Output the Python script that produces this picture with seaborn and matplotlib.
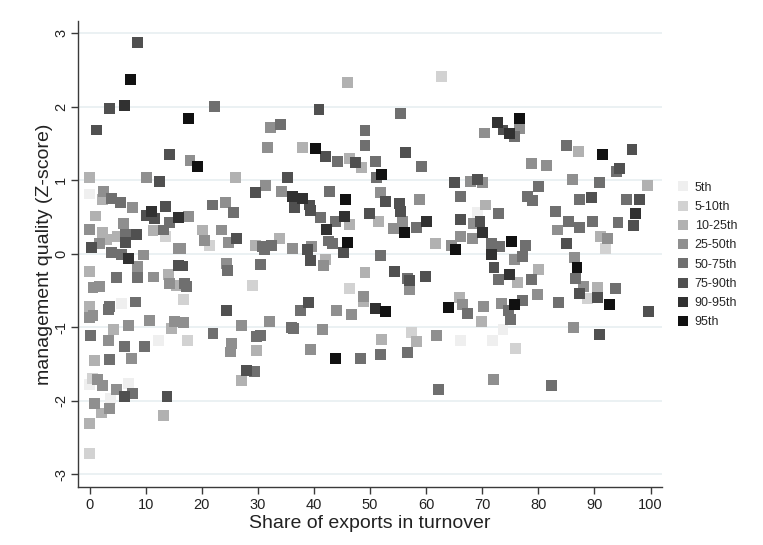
import matplotlib
matplotlib.use("Agg")
import matplotlib.pyplot as plt
import seaborn as sns
import pandas as pd


# =========================================================
# DATA
# =========================================================
group_labels = ["5th", "5-10th", "10-25th", "25-50th",
                "50-75th", "75-90th", "90-95th", "95th"]

export_share = [
    # 0-16
    8.6, 7.3, 3.6, 6.3, 1.3, 14.2, 0.0, 10.2, 12.5, 0.0, 2.5, 2.3, 3.9, 5.5,
    7.6, 13.6, 11.1, 10.1, 11.6, 15.8, 1.1, 6.0, 14.3, 13.1, 0.0, 2.3, 11.3,
    13.6, 3.1, 6.4, 8.3, 4.9, 1.8, 6.4, 0.3, 15.8, 3.9, 5.7, 7.0, 9.6, 8.6,
    15.8, 0.0, 4.8, 8.5, 11.4, 14.0, 14.3, 0.6, 1.8, 15.5, 0.0, 3.5, 3.3,
    5.7, 8.2, 0.6, 0.0, 10.6, 15.2, 14.6, 6.9, 4.2, 0.1, 3.3, 12.3, 6.3,
    9.8, 7.5, 3.6, 0.9, 0.5, 1.4, 2.3, 4.8, 6.9, 0.0, 6.3, 7.6, 13.8, 3.7,
    0.8, 3.6, 2.1, 0.0, 13.2, 0.0,
    # 16-33
    22.2, 17.6, 32.3, 31.7, 17.9, 19.2, 26.0, 31.4, 29.6, 21.9, 24.2, 25.6,
    17.7, 20.1, 20.5, 21.4, 23.5, 24.7, 26.2, 16.3, 29.6, 30.8, 31.1, 32.4,
    16.5, 24.4, 24.6, 30.4, 17.0, 17.3, 16.8, 29.0, 24.4, 16.7, 27.1, 32.1,
    17.4, 22.0, 25.3, 25.2, 29.8, 30.4, 29.8, 28.0, 29.4, 27.0,
    # 33-50
    46.0, 40.9, 34.1, 49.1, 49.1, 38.0, 40.3, 42.0, 44.2, 46.4, 47.4, 48.5,
    35.2, 34.2, 36.2, 38.0, 36.5, 39.2, 39.4, 42.7, 45.7, 41.2, 43.8, 45.4,
    46.3, 42.3, 49.9, 33.9, 36.2, 39.6, 38.8, 42.6, 43.3, 46.0, 45.3, 39.4,
    42.1, 41.7, 49.1, 46.3, 48.8, 48.9, 39.0, 37.6, 44.1, 46.7, 36.0, 36.4,
    41.6, 39.3, 43.9, 48.3,
    # 50-67
    62.7, 55.4, 56.4, 59.1, 51.0, 51.2, 52.0, 65.1, 66.1, 51.8, 52.8, 55.2,
    55.4, 58.8, 51.5, 54.2, 55.8, 56.1, 58.3, 60.0, 61.7, 64.6, 66.1, 66.1,
    65.2, 51.8, 54.3, 56.6, 57.1, 57.1, 59.9, 51.0, 52.8, 64.0, 66.0, 66.5,
    52.1, 57.4, 58.2, 61.9, 66.1, 51.8, 56.6, 62.2,
    # 67-84
    76.7, 72.7, 70.4, 73.7, 74.9, 75.7, 76.7, 78.8, 81.5, 69.2, 67.9, 70.1,
    70.5, 80.1, 78.0, 78.9, 69.1, 72.9, 83.0, 68.4, 69.6, 70.1, 68.3, 83.5,
    71.7, 73.1, 75.3, 77.7, 75.7, 77.1, 71.6, 72.1, 72.9, 74.8, 76.3, 78.8,
    80.1, 79.8, 67.3, 70.2, 69.9, 73.5, 74.7, 75.0, 75.7, 77.1, 83.6, 71.9,
    73.7, 75.9, 72.0, 82.3,
    # 84-100
    85.1, 87.1, 91.5, 96.7, 94.5, 93.9, 86.1, 90.9, 99.4, 87.3, 89.5, 95.8,
    98.0, 97.4, 85.3, 87.3, 89.6, 94.2, 97.0, 91.1, 92.4, 92.0, 85.0, 86.4,
    86.9, 86.7, 88.1, 87.3, 88.7, 90.5, 90.5, 92.7, 93.8, 99.7, 86.3, 90.9,
]

mgmt_score = [
    2.87, 2.37, 1.97, 2.02, 1.68, 1.35, 1.04, 1.03, 0.98, 0.81, 0.84, 0.73,
    0.75, 0.70, 0.63, 0.64, 0.57, 0.52, 0.48, 0.49, 0.51, 0.41, 0.42, 0.32,
    0.33, 0.29, 0.31, 0.23, 0.19, 0.26, 0.26, 0.23, 0.14, 0.15, 0.08, 0.07,
    0.01, -0.01, -0.07, -0.02, -0.18, -0.16, -0.25, -0.33, -0.33, -0.32,
    -0.29, -0.41, -0.46, -0.45, -0.44, -0.72, -0.72, -0.76, -0.68, -0.66,
    -0.84, -0.87, -0.91, -0.92, -1.02, -0.98, -1.04, -1.11, -1.18, -1.18,
    -1.27, -1.26, -1.43, -1.44, -1.46, -1.70, -1.71, -1.80, -1.85, -1.77,
    -1.78, -1.95, -1.90, -1.94, -1.97, -2.04, -2.11, -2.17, -2.31, -2.21,
    -2.72,
    2.00, 1.84, 1.71, 1.44, 1.26, 1.19, 1.04, 0.92, 0.83, 0.66, 0.70, 0.56,
    0.50, 0.32, 0.18, 0.11, 0.32, 0.15, 0.20, 0.07, 0.11, 0.09, 0.05, 0.11,
    -0.17, -0.14, -0.23, -0.15, -0.41, -0.45, -0.63, -0.44, -0.78, -0.94,
    -0.98, -0.92, -1.18, -1.09, -1.23, -1.34, -1.13, -1.11, -1.32, -1.59,
    -1.61, -1.73,
    2.33, 1.96, 1.75, 1.67, 1.47, 1.44, 1.43, 1.32, 1.25, 1.29, 1.24, 1.17,
    1.04, 0.85, 0.77, 0.75, 0.63, 0.66, 0.59, 0.84, 0.74, 0.49, 0.44, 0.50,
    0.39, 0.33, 0.55, 0.20, 0.07, 0.10, 0.06, 0.17, 0.14, 0.15, 0.01, -0.09,
    -0.08, -0.16, -0.26, -0.47, -0.59, -0.66, -0.67, -0.77, -0.78, -0.83,
    -1.01, -1.02, -1.03, -1.31, -1.43, -1.43,
    2.41, 1.90, 1.38, 1.19, 1.25, 1.04, 1.07, 0.97, 0.77, 0.83, 0.71, 0.68,
    0.57, 0.73, 0.43, 0.34, 0.43, 0.29, 0.36, 0.43, 0.13, 0.11, 0.23, 0.46,
    0.05, -0.03, -0.25, -0.34, -0.37, -0.49, -0.31, -0.75, -0.79, -0.73,
    -0.60, -0.70, -1.17, -1.07, -1.20, -1.11, -1.18, -1.38, -1.35, -1.85,
    1.84, 1.78, 1.64, 1.68, 1.63, 1.59, 1.70, 1.22, 1.20, 1.01, 0.98, 0.96,
    0.66, 0.91, 0.77, 0.72, 0.56, 0.54, 0.57, 0.41, 0.43, 0.28, 0.20, 0.32,
    0.14, 0.09, 0.16, 0.11, -0.08, -0.04, -0.01, -0.19, -0.36, -0.29, -0.39,
    -0.35, -0.22, -0.56, -0.82, -0.72, -0.93, -0.68, -0.77, -0.90, -0.70,
    -0.64, -0.67, -1.18, -1.04, -1.29, -1.72, -1.80,
    1.47, 1.39, 1.35, 1.41, 1.16, 1.11, 1.01, 0.97, 0.92, 0.73, 0.76, 0.73,
    0.73, 0.55, 0.44, 0.36, 0.44, 0.42, 0.38, 0.23, 0.20, 0.07, 0.14, -0.05,
    -0.19, -0.34, -0.45, -0.54, -0.61, -0.46, -0.60, -0.70, -0.48, -0.79,
    -1.01, -1.10,
]

# index into group_labels (0 = 5th ... 7 = 95th)
pct_group = [
    5, 7, 5, 6, 5, 5, 2, 3, 5, 0, 3, 2, 4, 4, 3, 5, 6, 5, 5, 6, 2, 3, 4, 4,
    3, 2, 2, 1, 2, 4, 5, 2, 3, 5, 5, 3, 4, 4, 6, 3, 3, 5, 2, 4, 4, 3, 2, 3,
    3, 3, 2, 2, 4, 4, 0, 4, 3, 3, 3, 3, 2, 3, 2, 4, 3, 0, 4, 4, 3, 4, 2, 1,
    3, 3, 3, 0, 0, 5, 4, 5, 0, 3, 3, 2, 2, 2, 1,
    4, 7, 3, 3, 3, 7, 2, 3, 5, 4, 3, 4, 3, 2, 3, 1, 3, 3, 5, 3, 2, 4, 4, 4,
    5, 3, 4, 4, 4, 4, 1, 1, 5, 3, 3, 3, 1, 4, 3, 3, 4, 4, 2, 5, 4, 2,
    2, 5, 4, 4, 4, 2, 7, 5, 4, 2, 5, 2, 5, 3, 6, 6, 5, 5, 5, 4, 7, 4, 4, 6,
    2, 6, 5, 2, 3, 3, 5, 4, 4, 7, 5, 5, 2, 3, 2, 1, 3, 2, 5, 4, 3, 3, 4, 4,
    3, 3, 7, 4,
    1, 4, 5, 4, 4, 4, 7, 5, 4, 3, 5, 5, 5, 3, 2, 3, 3, 7, 4, 6, 2, 3, 3, 5,
    7, 4, 5, 4, 5, 3, 5, 6, 7, 7, 2, 3, 2, 1, 2, 3, 0, 4, 4, 4,
    7, 6, 3, 5, 6, 4, 3, 3, 3, 5, 3, 3, 2, 4, 4, 4, 0, 4, 4, 3, 5, 6, 3, 3,
    4, 4, 7, 4, 3, 4, 6, 5, 4, 6, 2, 4, 2, 3, 4, 3, 2, 3, 4, 4, 7, 4, 4, 0,
    0, 1, 3, 4,
    4, 2, 7, 5, 5, 4, 3, 4, 2, 4, 5, 4, 5, 6, 4, 4, 4, 4, 5, 2, 3, 1, 5, 3,
    7, 4, 3, 5, 1, 2, 5, 7, 4, 5, 3, 5,
]

group_colors = ["#efefef", "#d2d2d2", "#b1b1b1", "#8f8f8f",
                "#6f6f6f", "#505050", "#313131", "#111111"]


# =========================================================
# PLOT
# =========================================================
sns.set_style("white")
plt.rcParams["font.family"] = ["Liberation Sans", "DejaVu Sans"]

df = pd.DataFrame({
    "share": export_share,
    "mq": mgmt_score,
    "grp": [group_labels[g] for g in pct_group],
    "order": pct_group,
}).sort_values("order", kind="stable")

fig = plt.figure(figsize=(7.63, 5.45), dpi=100)
ax = fig.add_axes([0.102, 0.106, 0.766, 0.855])

sns.scatterplot(
    data=df, x="share", y="mq", hue="grp",
    hue_order=group_labels,
    palette=dict(zip(group_labels, group_colors)),
    marker="s", s=62, linewidth=0, alpha=1.0,
    ax=ax, zorder=3,
)

ax.set_xlim(-2.1, 102.1)
ax.set_ylim(-3.18, 3.16)
ax.set_xticks(range(0, 101, 10))
ax.set_yticks(range(-3, 4))
ax.set_yticklabels([str(v) for v in range(-3, 4)], rotation=90, va="center")

ax.grid(axis="y", color="#e8eff1", linewidth=1.2, zorder=0)
ax.grid(axis="x", visible=False)
ax.set_axisbelow(True)

for side in ["top", "right"]:
    ax.spines[side].set_visible(False)
for side in ["left", "bottom"]:
    ax.spines[side].set_color("#3a3a3a")
    ax.spines[side].set_linewidth(1.0)

ax.tick_params(axis="both", direction="out", length=5, width=1,
               bottom=True, left=True,
               color="#3a3a3a", labelsize=10.5, labelcolor="#222222")
ax.tick_params(axis="y", pad=2)
ax.tick_params(axis="x", pad=3)

ax.set_xlabel("Share of exports in turnover", fontsize=14,
              color="#222222", labelpad=2)
ax.set_ylabel("management quality (Z-score)", fontsize=14,
              color="#222222", labelpad=1)

handles, labels = ax.get_legend_handles_labels()
ax.legend(handles, labels, loc="upper left",
          bbox_to_anchor=(0.877, 0.678), bbox_transform=fig.transFigure,
          frameon=False, fontsize=9, handletextpad=0.35,
          labelspacing=0.58, borderpad=0, handlelength=1.2)

fig.savefig("out.png", dpi=100, facecolor="white")
